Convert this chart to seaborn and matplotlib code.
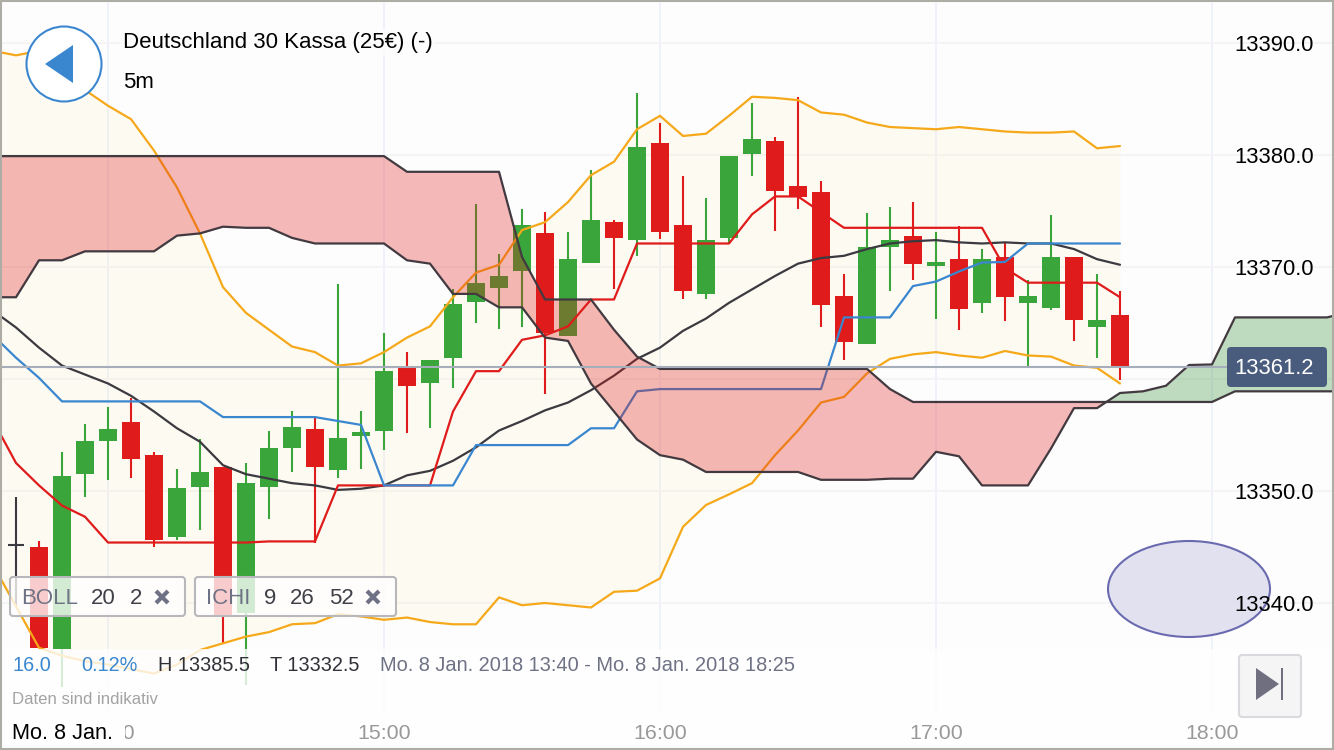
import numpy as np
import pandas as pd
import seaborn as sns
import matplotlib
matplotlib.use("Agg")
import matplotlib.pyplot as plt
from matplotlib.patches import FancyBboxPatch, Circle, Polygon, Rectangle, Ellipse
from matplotlib.ticker import FixedLocator

# ---------- data (prices) ----------
opens = [13345.0,13335.9,13351.5,13354.5,13356.2,13353.2,13345.9,13350.4,13352.1,13339.1,13350.4,13353.8,
         13355.5,13351.9,13354.9,13355.4,13361.1,13359.6,13361.9,13366.9,13368.1,13369.6,13373.0,13363.8,
         13370.4,13374.0,13372.4,13381.1,13373.75,13367.6,13372.6,13380.1,13381.25,13377.2,13376.7,13367.4,
         13363.1,13371.8,13372.8,13370.1,13370.7,13366.8,13370.9,13366.8,13366.3,13370.9,13364.6,13365.7]
closes = [13336.0,13351.3,13354.5,13355.5,13352.9,13345.6,13350.3,13351.7,13338.8,13350.7,13353.8,13355.7,
          13352.1,13354.7,13355.3,13360.7,13359.4,13361.7,13366.7,13368.6,13369.2,13373.75,13364.1,13370.7,
          13374.2,13372.6,13380.7,13373.1,13367.9,13372.4,13379.9,13381.4,13376.8,13376.25,13366.6,13363.3,
          13371.8,13372.4,13370.3,13370.45,13366.25,13370.7,13367.3,13367.4,13370.9,13365.3,13365.3,13361.2]
highs = [13345.5,13353.5,13356.0,13357.5,13358.3,13353.5,13352.0,13354.6,13352.1,13352.5,13355.4,13357.1,
         13356.6,13368.5,13357.1,13364.1,13362.4,13361.7,13368.0,13375.6,13371.2,13375.2,13374.9,13373.1,
         13378.7,13374.2,13385.5,13382.9,13378.1,13376.2,13379.9,13384.6,13381.6,13385.2,13377.7,13369.4,
         13374.8,13375.4,13375.8,13373.1,13373.7,13371.6,13372.1,13368.8,13374.6,13370.9,13369.4,13367.9]
lows = [13336.0,13332.5,13349.5,13351.0,13351.2,13345.0,13345.6,13346.5,13336.4,13332.7,13347.5,13351.7,
        13345.4,13351.2,13352.0,13353.7,13355.2,13355.6,13359.2,13365.0,13364.5,13364.6,13358.7,13363.8,
        13370.4,13368.0,13371.0,13372.5,13367.1,13367.1,13372.1,13378.1,13373.2,13375.2,13364.6,13361.7,
        13363.1,13367.9,13368.8,13365.4,13364.4,13365.9,13365.2,13361.2,13366.2,13363.4,13361.9,13359.9]
doji_ohlc = [13345.2, 13349.5, 13339.6, 13345.2]

boll_upper = [13389.3,13388.9,13389.3,13387.8,13385.8,13384.4,13383.2,13380.4,13377.1,13373.0,13368.2,13365.9,
              13364.4,13362.9,13362.4,13361.2,13361.4,13362.4,13363.7,13364.7,13367.3,13369.5,13370.2,13373.3,
              13374.0,13375.8,13378.2,13379.4,13382.3,13383.5,13381.7,13381.9,13383.5,13385.2,13385.1,13384.9,
              13383.8,13383.6,13382.9,13382.5,13382.4,13382.3,13382.5,13382.3,13382.1,13382.0,13382.0,13382.1,
              13380.6,13380.8]
boll_lower = [13343.4,13339.7,13336.0,13335.3,13334.8,13334.5,13334.1,13333.7,13334.5,13335.8,13336.4,13337.0,
              13337.4,13338.1,13338.2,13339.0,13338.8,13338.5,13338.7,13338.3,13338.1,13338.1,13340.5,13339.8,
              13340.0,13339.8,13339.6,13341.0,13341.1,13342.2,13346.8,13348.75,13349.7,13350.7,13353.2,13355.4,
              13357.9,13358.4,13360.5,13361.8,13362.2,13362.4,13362.1,13361.9,13362.5,13362.1,13362.0,13361.2,
              13361.0,13359.6]
boll_mid = [13366.1,13364.6,13362.8,13361.2,13360.4,13359.6,13358.5,13357.1,13355.6,13354.4,13352.3,13351.5,
            13351.1,13350.7,13350.5,13350.1,13350.2,13350.5,13351.4,13351.8,13352.7,13353.9,13355.4,13356.25,
            13357.2,13357.9,13359.0,13360.3,13361.8,13362.8,13364.3,13365.4,13366.8,13368.0,13369.2,13370.3,
            13370.8,13371.0,13371.6,13372.1,13372.3,13372.4,13372.2,13372.1,13372.2,13372.1,13372.1,13371.6,
            13370.7,13370.2]
tenkan = [13356.3,13352.5,13350.5,13348.7,13347.7,13345.4,13345.4,13345.4,13345.4,13345.4,13345.4,13345.4,
          13345.5,13345.5,13345.5,13350.5,13350.5,13350.5,13350.5,13350.5,13357.1,13360.7,13360.7,13363.5,
          13363.9,13364.7,13367.1,13367.1,13372.1,13372.1,13372.1,13372.1,13372.1,13374.7,13376.3,13376.3,
          13374.9,13373.5,13373.5,13373.5,13373.5,13373.5,13373.5,13373.5,13369.9,13368.6,13368.6,13368.6,
          13368.6,13367.3]
kijun = [13363.9,13361.9,13360.1,13358.0,13358.0,13358.0,13358.0,13358.0,13358.0,13358.0,13356.6,13356.6,
         13356.6,13356.6,13356.6,13356.25,13355.9,13350.5,13350.5,13350.5,13350.5,13354.1,13354.1,13354.1,
         13354.1,13354.1,13355.6,13355.6,13358.9,13359.1,13359.1,13359.1,13359.1,13359.1,13359.1,13359.1,
         13359.1,13365.5,13365.5,13365.5,13368.3,13368.7,13369.6,13370.4,13370.45,13372.1,13372.1,13372.1,
         13372.1,13372.1]
span_a = [13367.3,13367.3,13370.6,13370.6,13371.4,13371.4,13371.4,13371.4,13372.8,13373.0,13373.6,13373.5,
          13373.5,13372.6,13372.1,13372.1,13372.1,13372.1,13370.6,13370.3,13367.6,13367.6,13366.4,13366.4,
          13363.7,13363.4,13359.6,13357.1,13354.6,13353.2,13352.8,13351.7,13351.7,13351.7,13351.7,13351.7,
          13351.0,13351.0,13351.0,13351.1,13351.1,13353.5,13353.1,13350.5,13350.5,13350.5,13353.8,13357.4,
          13357.4,13358.75,13358.9,13359.4,13361.25,13361.3,13365.5,13365.5,13365.5,13365.5,13365.5,13366.0]
span_b = [13379.9]*18 + [13378.5]*5 + [13370.9] + [13367.1]*3 + [13364.4,13362.0] + [13360.9]*10 + \
         [13359.1] + [13357.95]*14 + [13358.9]*6

price_ticks = [13340, 13350, 13360, 13370, 13380, 13390]
time_ticks = [840, 900, 960, 1020, 1080]          # minutes of the day
time_labels = ["14:00", "15:00", "16:00", "17:00", "18:00"]
last_price = 13361.1
last_label = "13361.2"
title = "Deutschland 30 Kassa (25€) (-)"
interval = "5m"
range_text = "Mo. 8 Jan. 2018 13:40 - Mo. 8 Jan. 2018 18:25"

# ---------- styles ----------
RED, GREEN = "#E01B1B", "#3AA53A"
ORANGE, BLUE, DARK = "#F5A91A", "#3A87CF", "#3A3A40"
GREY_TXT = "#6F7285"

sns.set_theme(style="white")
plt.rcParams["font.family"] = ["Liberation Sans", "DejaVu Sans"]

W, H = 1334, 750
fig = plt.figure(figsize=(W / 100, H / 100), dpi=100, facecolor="#FDFDFD")
xlim = (816.52, 1106.52)
ylim = (13326.875, 13393.84)

ax = fig.add_axes([0, 0, 1, 1], zorder=1)
ax.set_facecolor("#FDFDFD")
ax.set_xlim(*xlim); ax.set_ylim(*ylim)
ax.xaxis.set_major_locator(FixedLocator(time_ticks))
ax.yaxis.set_major_locator(FixedLocator(price_ticks))
ax.tick_params(length=0, labelbottom=False, labelleft=False)
ax.set_axisbelow(True)
ax.xaxis.grid(True, color="#F0F2FB", lw=1.4)
ax.yaxis.grid(True, color="#F4F4F4", lw=1.4)
for s in ax.spines.values():
    s.set_visible(False)

t_lines = 815 + 5 * np.arange(len(boll_upper))
t_cloud = 815 + 5 * np.arange(len(span_a))
t_candles = 825 + 5 * np.arange(len(opens))

# Bollinger band fill
ax.fill_between(t_lines, boll_lower, boll_upper, color="#FFD535", alpha=0.05, lw=0, zorder=1)

# candles
o, c, h, l = map(np.array, (opens, closes, highs, lows))
cols = np.where(c >= o, GREEN, RED)
ax.vlines(t_candles, l, h, colors=cols, lw=1.5, zorder=2)
ax.bar(t_candles, np.abs(c - o), bottom=np.minimum(o, c), width=3.95, color=cols, lw=0, zorder=3)
ax.vlines([820], doji_ohlc[2], doji_ohlc[1], colors=DARK, lw=1.5, zorder=3)
ax.hlines([doji_ohlc[0]], 818.2, 821.8, colors=DARK, lw=1.5, zorder=3)

# indicator lines
lines = pd.DataFrame({"t": t_lines, "upper": boll_upper, "lower": boll_lower, "mid": boll_mid,
                      "tenkan": tenkan, "kijun": kijun})
for name, col in [("upper", ORANGE), ("lower", ORANGE), ("mid", DARK), ("tenkan", RED), ("kijun", BLUE)]:
    sns.lineplot(data=lines, x="t", y=name, color=col, lw=1.6, ax=ax, estimator=None,
                 errorbar=None, zorder=4, legend=False)

# Ichimoku cloud
a, b = np.array(span_a), np.array(span_b)
ax.fill_between(t_cloud, a, b, where=b >= a, interpolate=True, color=RED, alpha=0.30, lw=0, zorder=5)
ax.fill_between(t_cloud, a, b, where=a >= b, interpolate=True, color="#2E8B32", alpha=0.30, lw=0, zorder=5)
cloud = pd.DataFrame({"t": t_cloud, "a": span_a, "b": span_b})
for name in ("a", "b"):
    sns.lineplot(data=cloud, x="t", y=name, color="#423A40", lw=1.6, ax=ax, estimator=None,
                 errorbar=None, zorder=6, legend=False)

ax.set_xlim(*xlim); ax.set_ylim(*ylim)
ax.set_xlabel(""); ax.set_ylabel("")

# last price line, stops at the price box
ax.axhline(last_price, xmax=1227 / W, color="#A6ADBB", lw=1.5, zorder=7)

# ---------- pixel helper axes for the overlay widgets ----------
ov = fig.add_axes([0, 0, 1, 1], zorder=2)
ov.set_xlim(0, W); ov.set_ylim(H, 0); ov.axis("off"); ov.patch.set_alpha(0)

# translucent strip under the plot and solid strip for the time axis
ov.add_patch(Rectangle((0, 649), W, 65, fc="white", alpha=0.80, lw=0, zorder=1))
ov.add_patch(Rectangle((0, 714), W, 36, fc="#FEFEFE", lw=0, zorder=1))
ov.add_patch(Ellipse((1189, 589), 162, 96, fc="#E1E1EF", ec="#6A6AB0", lw=1.5, zorder=2))

# real tick labels on a transparent axes above the plot
tk = fig.add_axes([0, 0, 1, 1], zorder=3)
tk.patch.set_alpha(0)
tk.set_xlim(*xlim); tk.set_ylim(*ylim)
for s in tk.spines.values():
    s.set_visible(False)
tk.yaxis.tick_right()
tk.set_xticks(time_ticks, time_labels)
tk.set_yticks(price_ticks, [f"{v:.1f}" for v in price_ticks])
tk.tick_params(axis="x", length=0, pad=-12.2, labelsize=15.4, labelcolor="#999999")
tk.tick_params(axis="y", length=0, pad=-14.4, labelsize=15.8, labelcolor="black")
plt.setp(tk.get_yticklabels(), ha="right")
plt.setp(tk.get_xticklabels(), va="center")

ui = fig.add_axes([0, 0, 1, 1], zorder=4)
ui.set_xlim(0, W); ui.set_ylim(H, 0); ui.axis("off"); ui.patch.set_alpha(0)

def txt(x, y, s, color="black", size=16.0, **kw):
    ui.text(x, y, s, color=color, fontsize=size, va="center", ha=kw.pop("ha", "left"), **kw)

# back button
ui.add_patch(Circle((64, 64), 37.5, fc="white", ec=BLUE, lw=1.5))
ui.add_patch(Polygon([(45, 64), (73, 45), (73, 83)], fc=BLUE, lw=0))

# title
txt(123, 42.5, title, bbox=dict(fc="#FDFDFD", ec="none", pad=2, alpha=0.8))
txt(123, 83, interval)

# indicator chips
def chip(x0, x1, items, cross_x):
    ui.add_patch(FancyBboxPatch((x0 + 2, 578), x1 - x0 - 4, 37, boxstyle="round,pad=0,rounding_size=3",
                                mutation_aspect=1, fc="white", alpha=0.78, lw=0))
    ui.add_patch(FancyBboxPatch((x0 + 1, 577), x1 - x0 - 2, 39, boxstyle="round,pad=0,rounding_size=3",
                                fc="none", ec="#B8B8BC", lw=1.5))
    for i, (xt, s) in enumerate(items):
        txt(xt, 598, s, color=GREY_TXT if i == 0 else "#3F4048", size=16.0)
    ui.plot([cross_x - 6, cross_x + 6], [591, 603], color=GREY_TXT, lw=3, solid_capstyle="butt")
    ui.plot([cross_x - 6, cross_x + 6], [603, 591], color=GREY_TXT, lw=3, solid_capstyle="butt")

chip(9, 186, [(21, "BOLL"), (91, "20"), (130, "2")], 162)
chip(194, 397, [(206, "ICHI"), (264, "9"), (290, "26"), (329, "52")], 373)

# info row
txt(12, 665.5, "16.0", color=BLUE, size=14.3)
txt(81, 665.5, "0.12%", color=BLUE, size=14.3)
txt(158, 665.5, "H 13385.5", color="#303038", size=14.3)
txt(270, 665.5, "T 13332.5", color="#303038", size=14.3)
txt(380, 665.5, range_text, color=GREY_TXT, size=14.4)
txt(12, 699.5, "Daten sind indikativ", color="#A3A3A3", size=12.1)

# date label covering the 14:00 tick
ui.add_patch(Rectangle((0, 715), 125, 33, fc="#FEFEFE", lw=0))
txt(12, 733.5, "Mo. 8 Jan.", size=15.6)

# last price box
ui.add_patch(FancyBboxPatch((1227, 347), 100, 40, boxstyle="round,pad=0,rounding_size=4",
                            fc="#4A5C7E", lw=0))
txt(1314, 368, last_label, color="white", size=15.8, ha="right")

# jump button
ui.add_patch(FancyBboxPatch((1239, 655), 62, 62, boxstyle="round,pad=0,rounding_size=3",
                            fc="#F5F5F5", ec="#DADADE", lw=1.5))
ui.add_patch(Polygon([(1256, 668), (1256, 700), (1279, 684)], fc="#6F6F80", lw=0))
ui.add_patch(Rectangle((1281, 668), 2, 32, fc="#6F6F80", lw=0))

# outer frame
ui.add_patch(Rectangle((1, 1), W - 2, H - 2, fc="none", ec="#ADADA5", lw=1.5))

fig.savefig("out.png", dpi=100, facecolor=fig.get_facecolor())
